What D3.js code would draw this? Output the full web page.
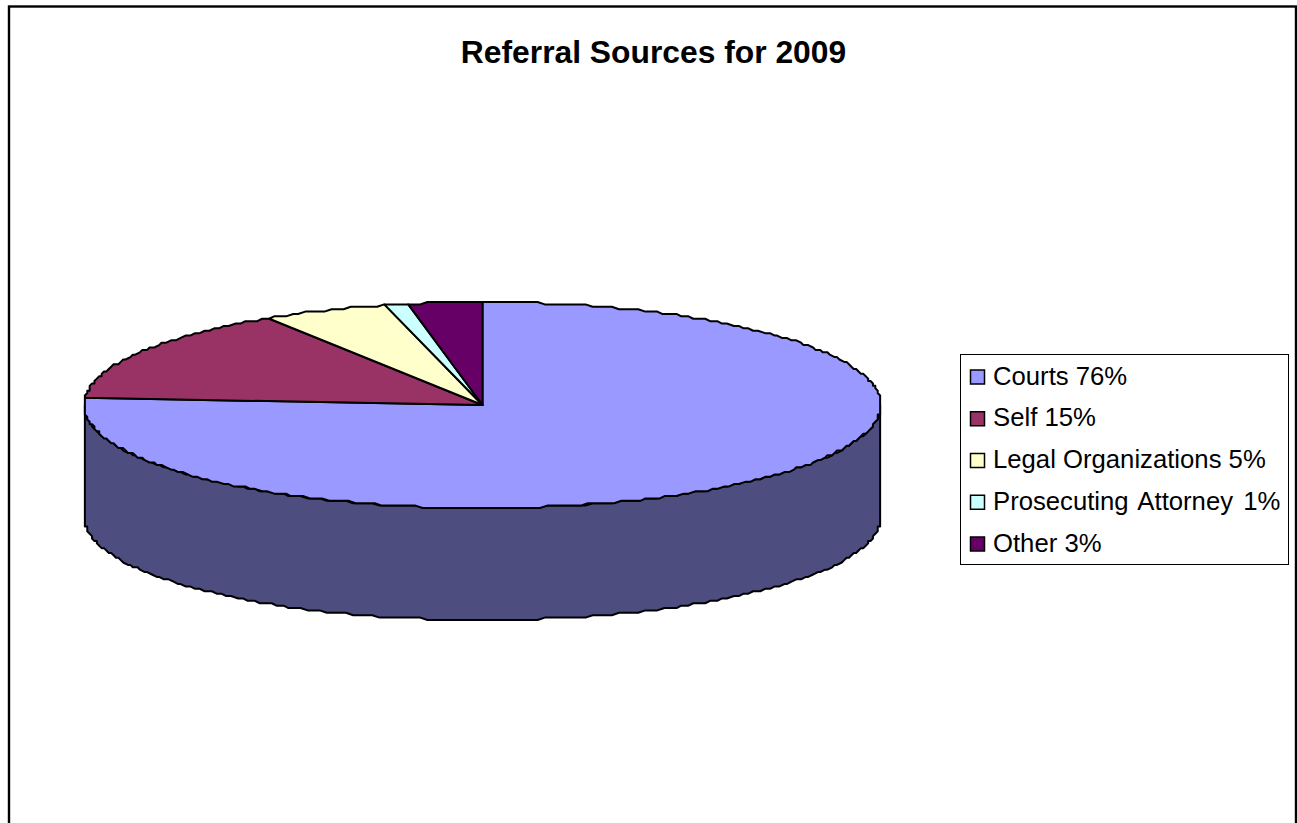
<!DOCTYPE html>
<html>
<head>
<meta charset="utf-8">
<style>
html, body { margin: 0; padding: 0; background: #fff; overflow: hidden; }
svg { display: block; }
text { font-family: "Liberation Sans", Arial, sans-serif; fill: #000; }
</style>
<script src="https://cdn.jsdelivr.net/npm/d3@7"></script>
</head>
<body>
<script>
// Referral sources, share of the total in percent
const categories = ["Courts", "Self", "Legal Organizations", "Prosecuting Attorney", "Other"];
const shares = [76, 15, 5, 1, 3];
const topColors = ["#9999FF", "#993366", "#FFFFCC", "#CCFFFF", "#660066"];
const wallColor = "#4D4D80";
const chartTitle = "Referral Sources for 2009";

const width = 1297, height = 823;
const cx = 482.5, cy = 405, rx = 398.5, ry = 103, depth = 112;
const rimGrid = ry / 43; // coarse device grid that gives the rim its slight wobble

const svg = d3.select("body").append("svg").attr("width", width).attr("height", height);

// Outer chart frame, running off the bottom of the page
svg.append("rect")
  .attr("x", 9).attr("y", 6.5).attr("width", 1287).attr("height", 840)
  .attr("fill", "#fff").attr("stroke", "#000").attr("stroke-width", 2.4);

svg.append("text")
  .attr("x", 653.5).attr("y", 63)
  .attr("text-anchor", "middle")
  .attr("font-size", 31.8).attr("font-weight", "bold")
  .text(chartTitle);

// Tilted disc: an angle measured clockwise from twelve o'clock maps onto the ellipse
const px = d3.scaleLinear().domain([-1, 1]).range([cx - rx, cx + rx]);
const py = d3.scaleLinear().domain([-1, 1]).range([cy - ry, cy + ry]);
const snap = (v, origin) => origin + Math.round((v - origin) / rimGrid) * rimGrid;
const onRim = a => [snap(px(Math.sin(a)), cx), snap(py(-Math.cos(a)), cy)];

const pie = d3.pie().sort(null).startAngle(0).endAngle(2 * Math.PI);
const slices = pie(shares);
const line = d3.line();

// Side wall: the front half of the rim, swept down by the disc depth
const front = d3.range(Math.PI / 2, 3 * Math.PI / 2 + 0.001, Math.PI / 180).map(onRim);
const wall = front.concat(front.slice().reverse().map(([x, y]) => [x, y + depth]));
svg.append("path")
  .attr("d", line(wall) + "Z")
  .attr("fill", wallColor).attr("stroke", "#000").attr("stroke-width", 2)
  .attr("stroke-linejoin", "round");

// Top face wedges, each following the rim between its start and end angles
svg.append("g").selectAll("path")
  .data(slices)
  .join("path")
  .attr("d", d => {
    const steps = Math.max(2, Math.ceil((d.endAngle - d.startAngle) / (Math.PI / 180)));
    const rim = d3.range(steps + 1).map(i =>
      onRim(d.startAngle + (d.endAngle - d.startAngle) * i / steps));
    return line([[cx, cy], ...rim]) + "Z";
  })
  .attr("fill", (d, i) => topColors[i])
  .attr("stroke", "#000").attr("stroke-width", 2)
  .attr("stroke-linejoin", "round");

// Legend
const legendX = 960.5, legendY = 354.5, legendW = 328, legendH = 210;
const legend = svg.append("g");
legend.append("rect")
  .attr("x", legendX).attr("y", legendY).attr("width", legendW).attr("height", legendH)
  .attr("fill", "#fff").attr("stroke", "#000").attr("stroke-width", 1);

const rowY = d3.scalePoint().domain(categories).range([376, 543]);
const rows = legend.selectAll("g")
  .data(categories)
  .join("g")
  .attr("transform", d => `translate(0,${rowY(d)})`);
rows.append("rect")
  .attr("x", 970.5).attr("y", -6).attr("width", 14).attr("height", 14)
  .attr("fill", (d, i) => topColors[i])
  .attr("stroke", "#000").attr("stroke-width", 1.5);
rows.append("text")
  .attr("x", 993).attr("y", 8.5)
  .attr("font-size", 25.7)
  .attr("word-spacing", d => d === "Prosecuting Attorney" ? 3 : 0)
  .text((d, i) => `${d} ${shares[i]}%`);
</script>
</body>
</html>
